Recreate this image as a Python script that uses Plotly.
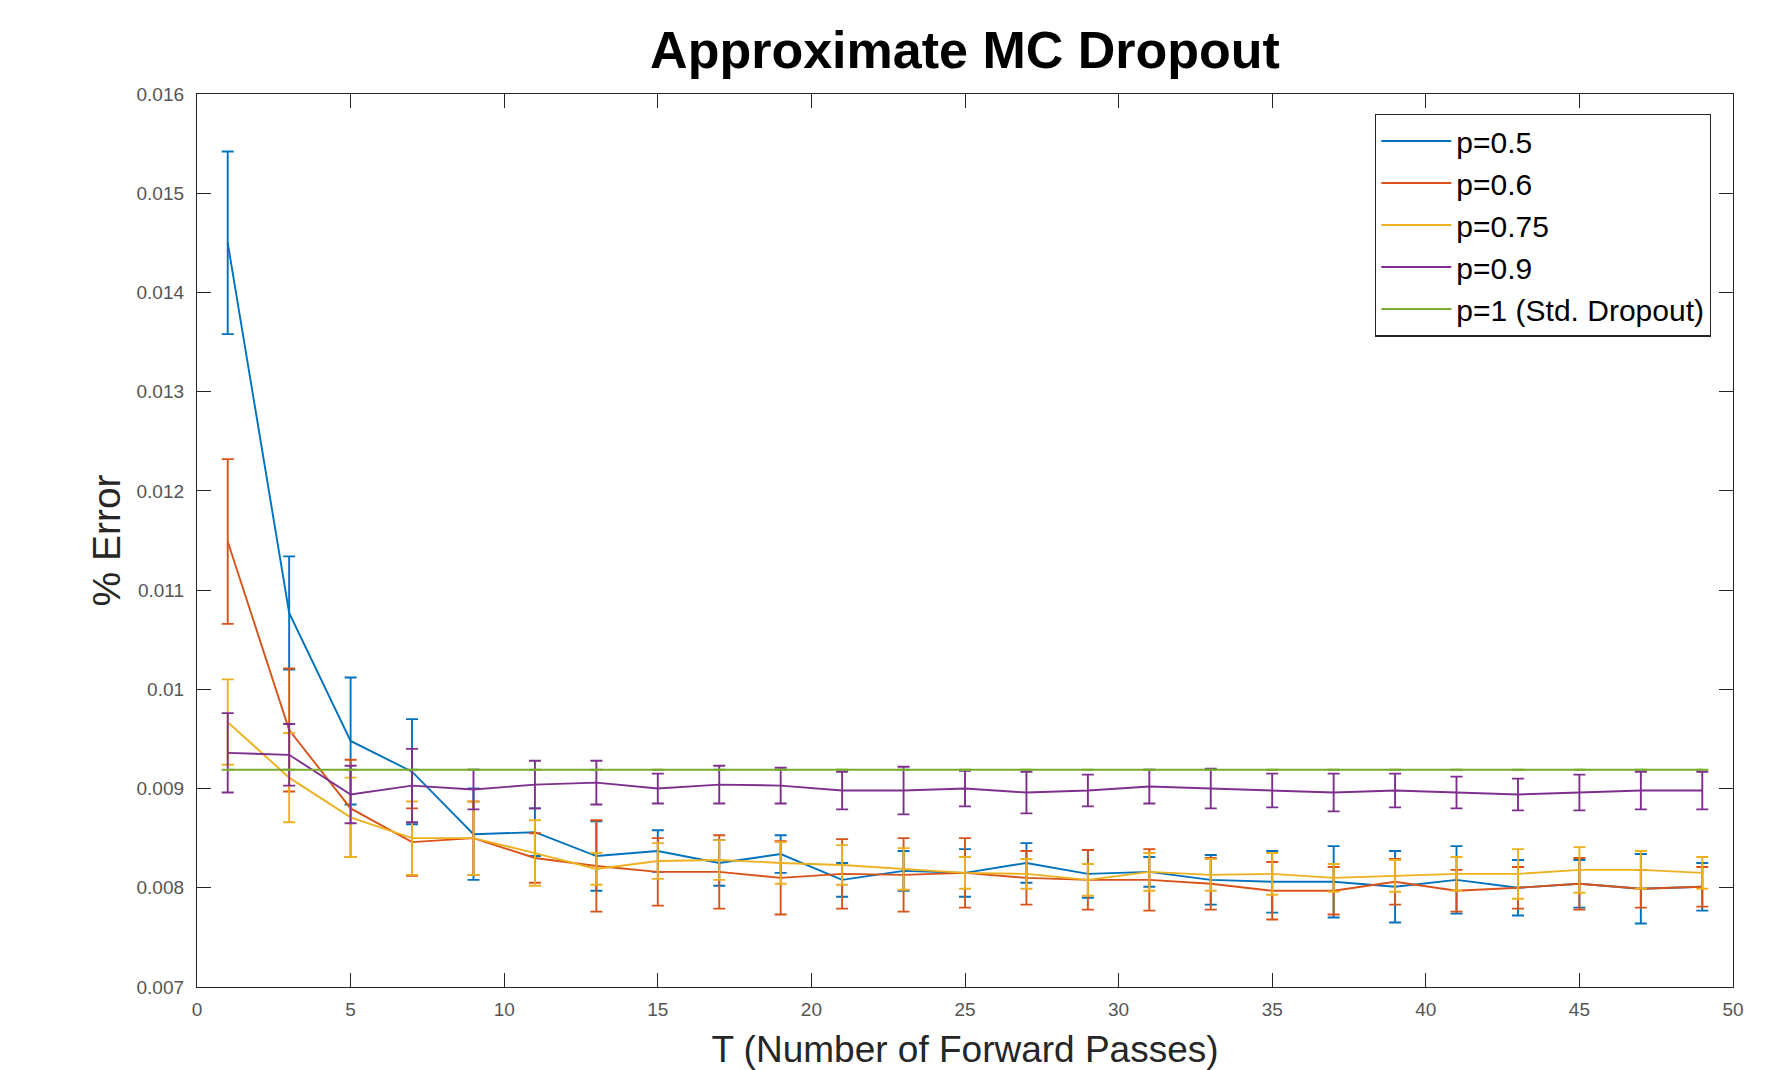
import plotly.graph_objects as go

T = [1, 3, 5, 7, 9, 11, 13, 15, 17, 19, 21, 23, 25, 27, 29, 31, 33, 35, 37, 39, 41, 43, 45, 47, 49]

p05_y = [0.01450, 0.01077, 0.00948, 0.00917, 0.00854, 0.00856, 0.00832, 0.00837, 0.00825, 0.00834,
         0.00808, 0.00817, 0.00815, 0.00825, 0.00814, 0.00816, 0.00808, 0.00806, 0.00806, 0.00801,
         0.00808, 0.00800, 0.00804, 0.00799, 0.00801]
p05_e = [0.00092, 0.00057, 0.00064, 0.00053, 0.00046, 0.00024, 0.00035, 0.00021, 0.00023, 0.00019,
         0.00017, 0.00020, 0.00024, 0.00020, 0.00024, 0.00015, 0.00025, 0.00031, 0.00036, 0.00036,
         0.00034, 0.00028, 0.00024, 0.00035, 0.00024]

p06_y = [0.01149, 0.00959, 0.00880, 0.00846, 0.00850, 0.00830, 0.00822, 0.00816, 0.00816, 0.00810,
         0.00814, 0.00813, 0.00815, 0.00810, 0.00808, 0.00808, 0.00804, 0.00797, 0.00797, 0.00806,
         0.00797, 0.00800, 0.00804, 0.00799, 0.00801]
p06_e = [0.00083, 0.00062, 0.00049, 0.00034, 0.00037, 0.00025, 0.00046, 0.00034, 0.00037, 0.00037,
         0.00035, 0.00037, 0.00035, 0.00027, 0.00030, 0.00031, 0.00026, 0.00029, 0.00024, 0.00023,
         0.00021, 0.00021, 0.00026, 0.00019, 0.00020]

p075_y = [0.00967, 0.00911, 0.00871, 0.00850, 0.00850, 0.00835, 0.00819, 0.00827, 0.00828, 0.00825,
          0.00823, 0.00819, 0.00815, 0.00814, 0.00808, 0.00816, 0.00813, 0.00814, 0.00810, 0.00812,
          0.00814, 0.00814, 0.00818, 0.00818, 0.00815]
p075_e = [0.00043, 0.00045, 0.00040, 0.00037, 0.00037, 0.00033, 0.00016, 0.00018, 0.00020, 0.00021,
          0.00020, 0.00021, 0.00016, 0.00015, 0.00016, 0.00019, 0.00016, 0.00021, 0.00014, 0.00016,
          0.00017, 0.00025, 0.00023, 0.00019, 0.00016]

p09_y = [0.00936, 0.00934, 0.00894, 0.00903, 0.00899, 0.00904, 0.00906, 0.00900, 0.00904, 0.00903,
         0.00898, 0.00898, 0.00900, 0.00896, 0.00898, 0.00902, 0.00900, 0.00898, 0.00896, 0.00898,
         0.00896, 0.00894, 0.00896, 0.00898, 0.00898]
p09_e = [0.00040, 0.00031, 0.00029, 0.00037, 0.00020, 0.00024, 0.00022, 0.00015, 0.00019, 0.00018,
         0.00019, 0.00024, 0.00018, 0.00021, 0.00016, 0.00017, 0.00020, 0.00017, 0.00019, 0.00017,
         0.00016, 0.00016, 0.00018, 0.00019, 0.00019]

p1_y = [0.00919] * 25
p1_e = [0.0] * 25

x_ticks = [0, 5, 10, 15, 20, 25, 30, 35, 40, 45, 50]
y_ticks = [0.007, 0.008, 0.009, 0.010, 0.011, 0.012, 0.013, 0.014, 0.015, 0.016]
y_tick_labels = ["0.007", "0.008", "0.009", "0.01", "0.011", "0.012", "0.013", "0.014", "0.015", "0.016"]

series = [
    ("p=0.5", p05_y, p05_e, "#0072BD"),
    ("p=0.6", p06_y, p06_e, "#D95319"),
    ("p=0.75", p075_y, p075_e, "#EDB120"),
    ("p=0.9", p09_y, p09_e, "#7E2F8E"),
    ("p=1 (Std. Dropout)", p1_y, p1_e, "#77AC30"),
]

fig = go.Figure()
for name, ys, es, col in series:
    fig.add_trace(go.Scatter(
        x=T, y=ys, name=name, mode="lines",
        line=dict(color=col, width=1.9),
        error_y=dict(type="data", array=es, visible=True, color=col, thickness=1.9, width=6),
    ))

FONT = "Liberation Sans, Arial, Helvetica, sans-serif"
axis_common = dict(
    showline=True, linecolor="#262626", linewidth=1.3, mirror="ticks",
    ticks="inside", ticklen=14, tickcolor="#262626", tickwidth=1.3,
    showgrid=False, zeroline=False, automargin=False,
    tickfont=dict(family=FONT, size=19, color="#555555"),
)

fig.update_layout(
    width=1781, height=1062,
    paper_bgcolor="white", plot_bgcolor="white",
    margin=dict(l=189, r=56, t=86, b=83),
    title=dict(text="<b>Approximate MC Dropout</b>", x=(965 - 8) / 1781, xanchor="center",
               y=1 - 42 / 1062, yref="container", yanchor="middle",
               font=dict(family=FONT, size=52, color="black")),
    xaxis=dict(range=[0, 50], tickvals=x_ticks, ticklabelstandoff=5,
               title=dict(text="T (Number of Forward Passes)", standoff=18,
                          font=dict(family=FONT, size=37, color="#262626")),
               **axis_common),
    yaxis=dict(range=[0.007, 0.016], tickvals=y_ticks, ticktext=y_tick_labels, ticklabelstandoff=8,
               title=dict(text="% Error", standoff=3,
                          font=dict(family=FONT, size=39, color="#262626")),
               **axis_common),
    legend=dict(x=0.9857, xanchor="right", y=0.978, yanchor="top",
                bordercolor="#262626", borderwidth=1.3, bgcolor="white",
                font=dict(family=FONT, size=30, color="black"),
                itemwidth=70, tracegroupgap=0),
    showlegend=True,
)

fig.write_html("out.html")
